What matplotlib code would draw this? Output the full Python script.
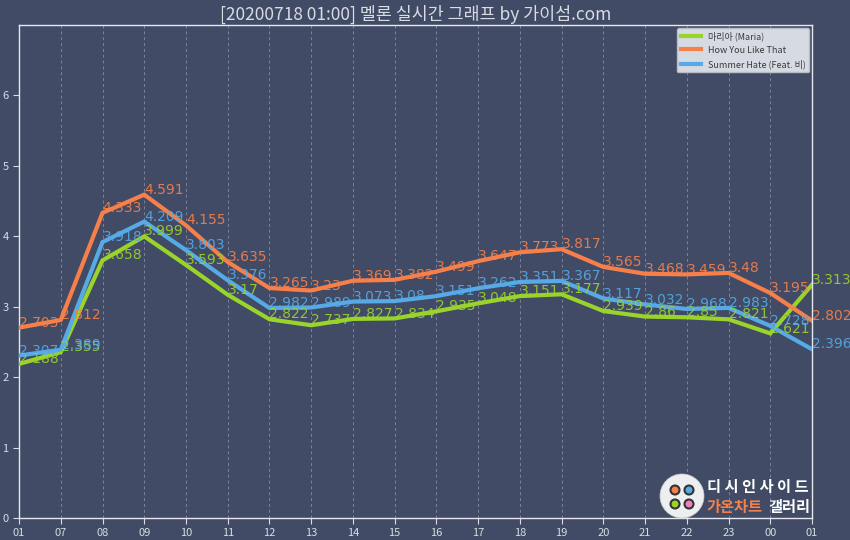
import matplotlib
matplotlib.use("Agg")
import matplotlib.pyplot as plt
from matplotlib.patches import Circle

plt.rcParams["font.family"] = ["Noto Sans CJK KR", "DejaVu Sans"]

# hourly chart values, 01:00 on the 17th through 01:00 on the 18th
hours = ["01", "07", "08", "09", "10", "11", "12", "13", "14", "15",
         "16", "17", "18", "19", "20", "21", "22", "23", "00", "01"]
maria = [2.188, 2.355, 3.658, 3.999, 3.593, 3.17, 2.822, 2.737, 2.827, 2.834,
         2.935, 3.048, 3.151, 3.177, 2.939, 2.86, 2.85, 2.821, 2.621, 3.313]
how_you_like_that = [2.703, 2.812, 4.333, 4.591, 4.155, 3.635, 3.265, 3.23, 3.369, 3.382,
                     3.499, 3.647, 3.773, 3.817, 3.565, 3.468, 3.459, 3.48, 3.195, 2.802]
summer_hate = [2.307, 2.389, 3.918, 4.209, 3.803, 3.376, 2.982, 2.989, 3.073, 3.08,
               3.151, 3.262, 3.351, 3.367, 3.117, 3.032, 2.968, 2.983, 2.728, 2.396]
series_names = ["마리아 (Maria)", "How You Like That", "Summer Hate (Feat. 비)"]
yticks = [0, 1, 2, 3, 4, 5, 6]

BG = "#414b65"
COLORS = ["#9ad42a", "#f7804a", "#56aae6"]
FG = "#d9dce3"

fig = plt.figure(figsize=(8.5, 5.4), dpi=100, facecolor=BG)
ax = fig.add_axes([0.0224, 0.0407, 0.9329, 0.913])
ax.set_facecolor(BG)

x = list(range(len(hours)))
for name, values, colour in zip(series_names, [maria, how_you_like_that, summer_hate], COLORS):
    ax.plot(x, values, color=colour, lw=3, label=name, solid_joinstyle="miter", zorder=3)
    for xi, v in zip(x, values):
        ax.text(xi, v - 0.03, f"{v:g}", color=colour, fontsize=10, ha="left",
                va="bottom", alpha=0.9, zorder=4, family="DejaVu Sans")

ax.set_xlim(0, len(hours) - 1)
ax.set_ylim(0, 7)
ax.set_xticks(x)
ax.set_xticklabels(hours)
ax.set_yticks(yticks)
ax.tick_params(colors=FG, labelsize=8, length=4, width=0.8)
ax.grid(axis="x", color="#8a92a8", ls=(0, (3, 3)), lw=0.7, alpha=0.8)
for s in ax.spines.values():
    s.set_color("#e6e8ee")
    s.set_linewidth(1.0)

leg = ax.legend(loc="upper right", fontsize=6.5, frameon=True, handlelength=2.2,
                borderaxespad=0.3, labelspacing=0.5, fancybox=True)
leg.get_frame().set_facecolor("#d6dae2")
leg.get_frame().set_edgecolor("#b8bcc6")
leg.get_frame().set_alpha(1)
for t in leg.get_texts():
    t.set_color("#3a3a3a")

ax.set_title("[20200718 01:00] 멜론 실시간 그래프 by 가이섬.com", color=FG,
             fontsize=12.5, pad=4)

# gallery badge in the lower right corner
fig.patches.append(Circle((682, 540 - 496), 22, transform=None, fc="#eceef0",
                          ec="#cccccc", lw=0.5, zorder=5))
for dx, dy, c in [(-7, 6, "#f7804a"), (7, 6, "#56aae6"), (-7, -8, "#9ad42a"), (7, -8, "#f080c0")]:
    fig.patches.append(Circle((682 + dx, 540 - 496 + dy), 4.5, transform=None,
                              fc=c, ec="#333333", lw=1.5, zorder=6))
fig.text(707 / 850, 1 - 487 / 540, "디 시 인 사 이 드", color="white", fontsize=11,
         fontweight="bold", va="center", ha="left")
fig.text(707 / 850, 1 - 507 / 540, "가온차트", color="#f7804a", fontsize=11,
         fontweight="bold", va="center", ha="left")
fig.text(810 / 850, 1 - 507 / 540, "갤러리", color="white", fontsize=11,
         fontweight="bold", va="center", ha="right")

fig.savefig("out.png", dpi=100, facecolor=BG)
